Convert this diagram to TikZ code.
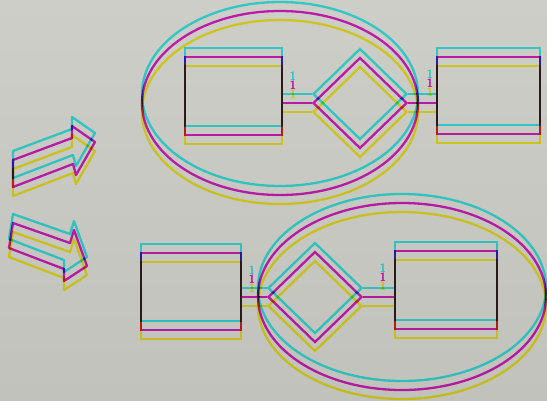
\documentclass[tikz,border=0pt]{standalone}
\usetikzlibrary{shapes.geometric}
\definecolor{bgtop}{RGB}{206,206,200}
\definecolor{bgbot}{RGB}{194,194,188}
\definecolor{cy}{RGB}{60,248,252}
\definecolor{mg}{RGB}{232,35,212}
\definecolor{ye}{RGB}{255,246,40}
\tikzset{
  box/.style={draw, rectangle, inner sep=0pt},
  dia/.style={draw, diamond, inner sep=0pt, minimum width=94pt, minimum height=91pt},
  ell/.style={draw, ellipse, inner sep=0pt},
  lbl/.style={font=\sffamily\bfseries\fontsize{12}{12}\selectfont, inner sep=0pt},
}
\newcommand\cmylayer[2]{%
\begin{scope}[yshift=#2, draw=#1, text=#1, line width=2.3pt, blend mode=multiply]
  % top row
  \node[box, minimum width=97pt, minimum height=78pt] (tl#1) at (233.5,96) {};
  \node[dia] (td#1) at (360,103) {};
  \node[box, minimum width=103pt, minimum height=77pt] (tr#1) at (488.5,95.5) {};
  \node[ell, minimum width=276pt, minimum height=184pt] (te#1) at (280,103) {};
  \draw (tl#1.east |- td#1.west) -- (td#1.west);
  \draw (td#1.east) -- (tr#1.west |- td#1.east);
  \node[lbl] (tla#1) at (293,85) {1};
  \node[lbl] (tra#1) at (430,83) {1};
  % bottom row
  \node[box, minimum width=100pt, minimum height=77pt] (bl#1) at (191,291.5) {};
  \node[dia] (bd#1) at (315,297) {};
  \node[box, minimum width=102pt, minimum height=78pt] (br#1) at (446,290) {};
  \node[ell, minimum width=288pt, minimum height=187pt] (be#1) at (402,296.5) {};
  \draw (bl#1.east |- bd#1.west) -- (bd#1.west);
  \draw (bd#1.east) -- (br#1.west |- bd#1.east);
  \node[lbl] (bla#1) at (252,279) {1};
  \node[lbl] (bra#1) at (383,277) {1};
  % block arrows
  \draw[line join=round] (13,160) -- (72,138) -- (72,126) -- (95,142) -- (76,175) -- (73,164) -- (13,187) -- cycle;
  \draw[line join=round] (13,223) -- (70,243) -- (74,230) -- (87,266) -- (64,281) -- (64,269) -- (9,248) -- cycle;
\end{scope}}
\begin{document}
\begin{tikzpicture}[x=1pt,y=-1pt]
  \useasboundingbox (0,0) rectangle (547,400);
  \shade[top color=bgtop, bottom color=bgbot] (0,0) rectangle (547,400);
  \cmylayer{cy}{9pt}
  \cmylayer{mg}{0pt}
  \cmylayer{ye}{-9pt}
\end{tikzpicture}
\end{document}
